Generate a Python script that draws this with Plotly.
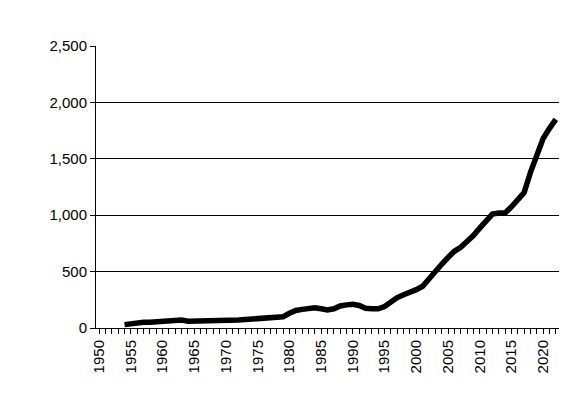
import plotly.graph_objects as go

years = list(range(1954, 2023))
values = [30, 40, 50, 50, 50, 55, 60, 60, 62, 70, 60, 60, 60, 60, 60, 62, 68, 65, 70, 75,
          80, 85, 90, 92, 97, 100, 130, 155, 165, 175, 180, 170, 160, 170, 195, 205, 210, 200,
          175, 170, 170, 190, 235, 270, 295, 315, 340, 370, 440, 500, 565, 625, 680, 715, 760,
          820, 885, 955, 1010, 1020, 1020, 1075, 1130, 1200, 1380, 1540, 1680, 1770, 1850]
label_years = list(range(1950, 2021, 5))

fig = go.Figure(go.Scatter(x=years, y=values, mode="lines",
                           line=dict(color="black", width=5.5)))
fig.update_layout(
    width=585, height=418, margin=dict(l=88, r=34, t=38, b=98),
    plot_bgcolor="white", paper_bgcolor="white", showlegend=False,
    font=dict(family="Liberation Sans, Arial", size=15, color="black"),
)
fig.update_xaxes(range=[1949.5, 2022.5], tickvals=label_years, tickangle=-90,
                 ticks="outside", ticklen=5, tickcolor="black",
                 minor=dict(dtick=1, tick0=1950, ticks="outside", ticklen=5, tickcolor="black"),
                 showline=True, linecolor="black", showgrid=False, zeroline=False)
fig.update_yaxes(range=[0, 2500], dtick=500, tickformat=",", ticks="outside", ticklen=5,
                 tickcolor="black", showline=True, linecolor="black",
                 gridcolor="black", gridwidth=1, zeroline=False)
fig.write_html("out.html")
